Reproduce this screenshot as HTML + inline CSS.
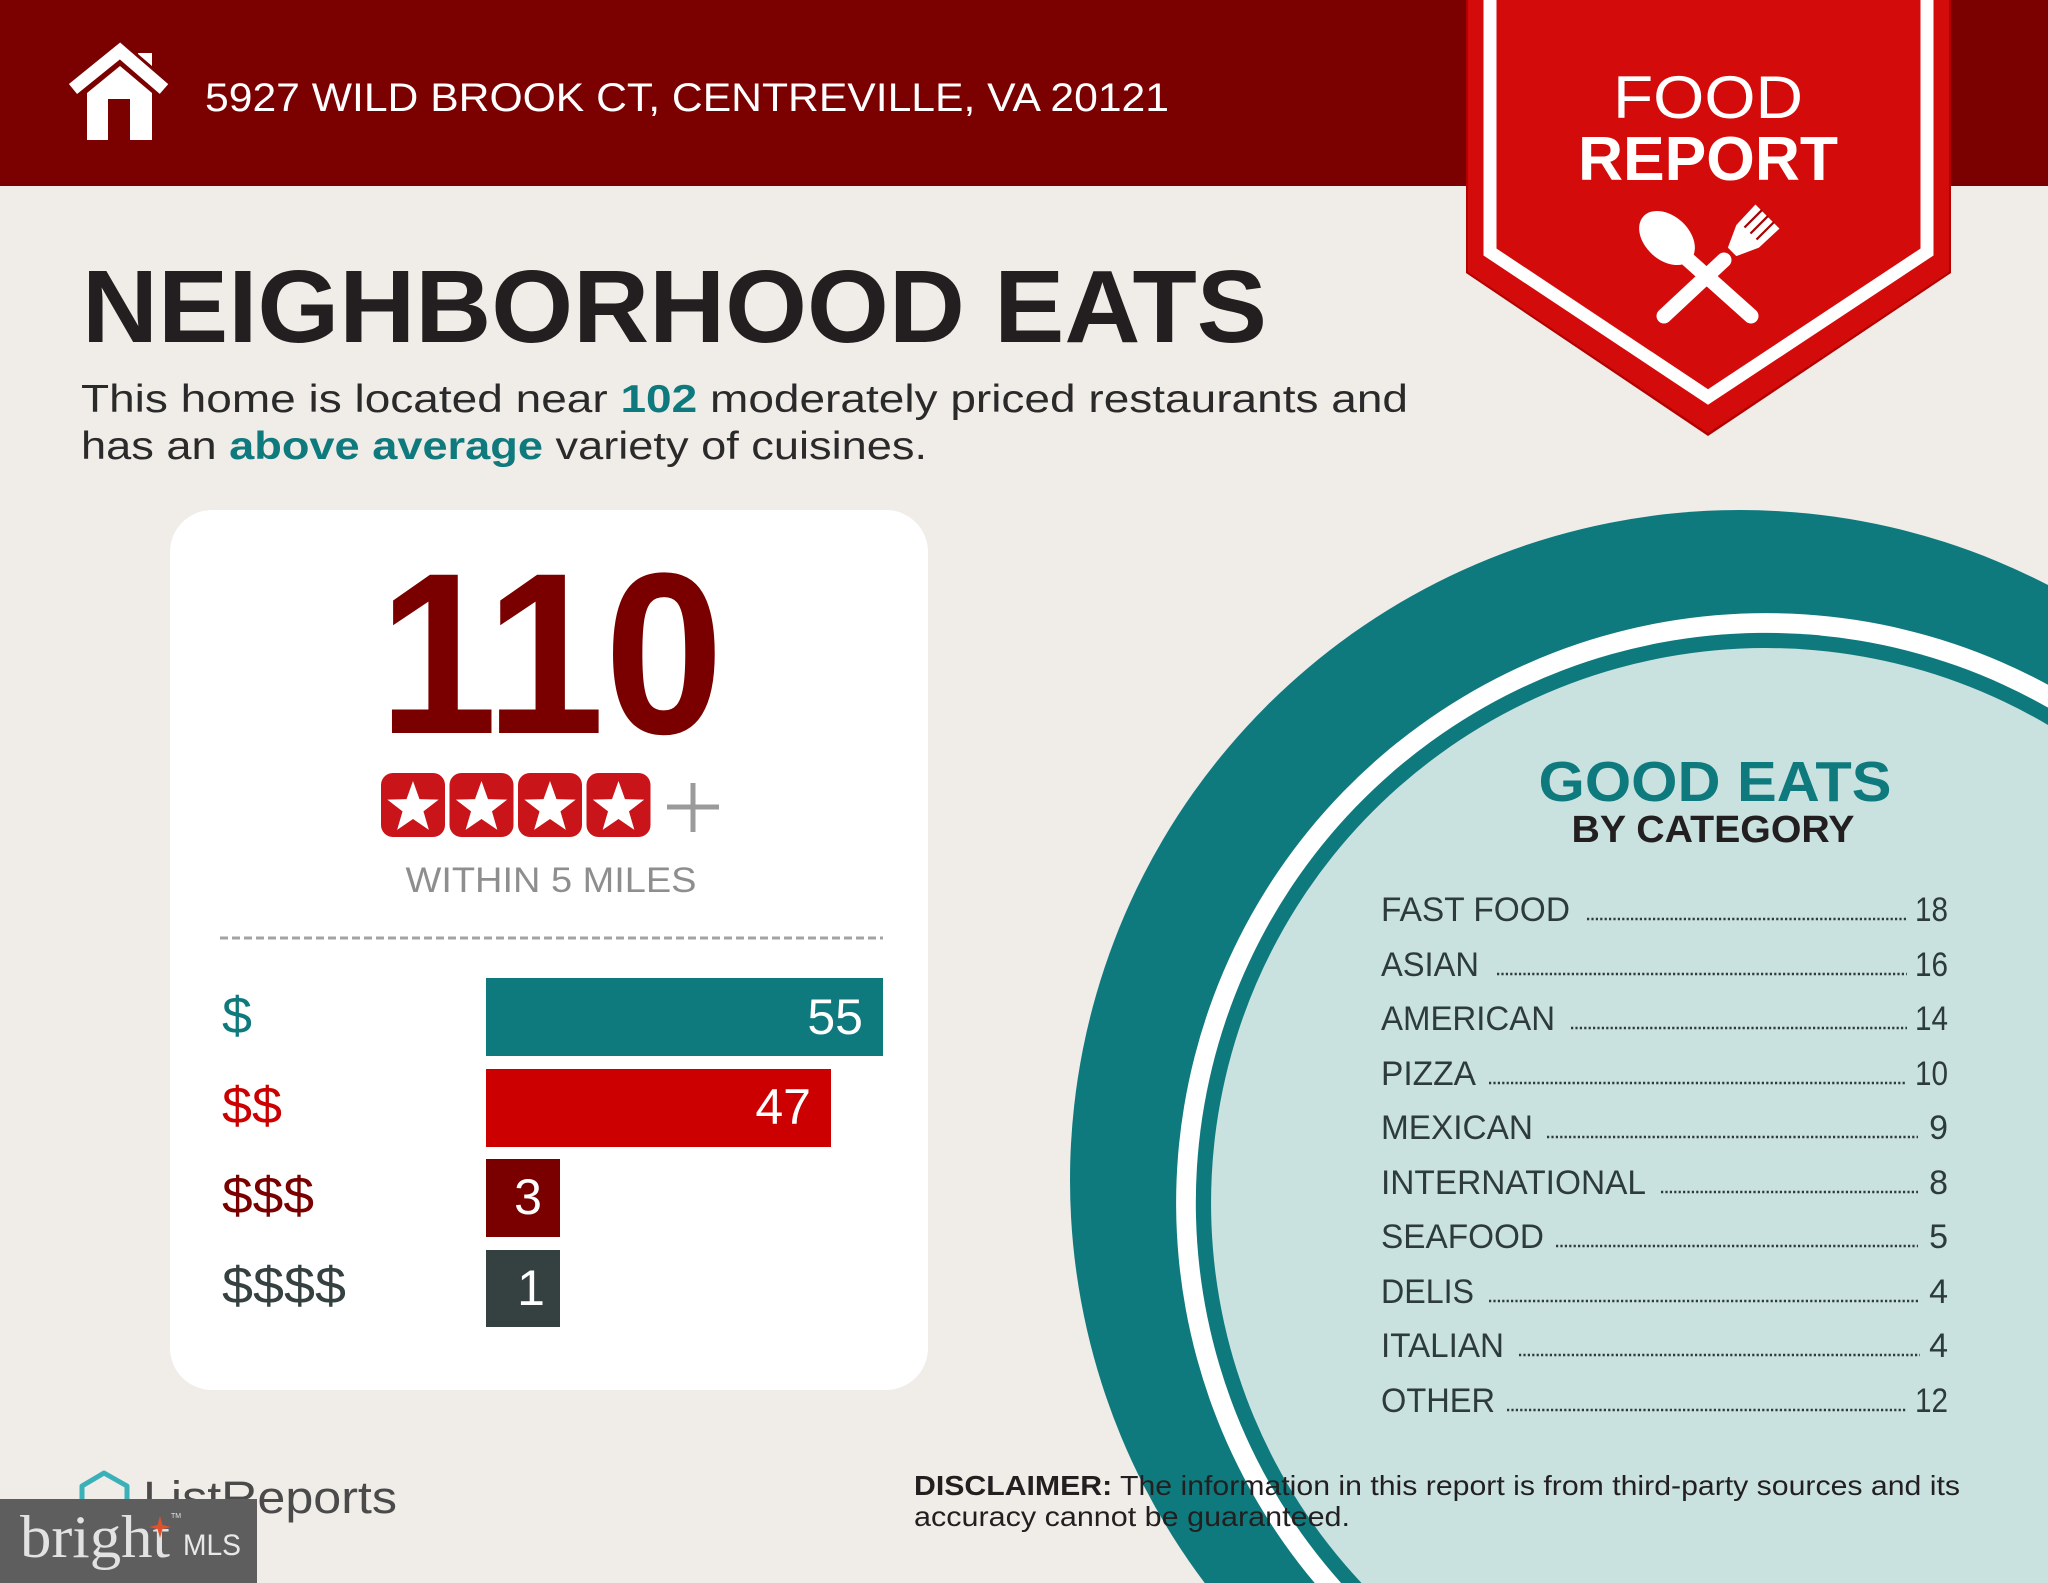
<!DOCTYPE html>
<html>
<head>
<meta charset="utf-8">
<style>
  html,body{margin:0;padding:0;background:#f0ece8;width:2048px;height:1583px;overflow:hidden;}
  svg{display:block;position:absolute;left:0;top:0;}
  text{font-family:"Liberation Sans",sans-serif;}
</style>
</head>
<body>
<svg width="2048" height="1583" viewBox="0 0 2048 1583" xmlns="http://www.w3.org/2000/svg">
  <!-- background -->
  <rect x="0" y="0" width="2048" height="1583" fill="#f0ece8"/>

  <!-- header bar -->
  <rect x="0" y="0" width="2048" height="186" fill="#7b0000"/>

  <!-- house icon -->
  <polygon points="87,140 87,93 120,66 152,93 152,140" fill="#ffffff"/>
  <rect x="108" y="99" width="22" height="41" fill="#7b0000"/>
  <rect x="138" y="53" width="14" height="24" fill="#ffffff"/>
  <polyline points="73,89 120,51 164,89" fill="none" stroke="#7b0000" stroke-width="19" stroke-linejoin="miter"/>
  <polyline points="73,89 120,51 164,89" fill="none" stroke="#ffffff" stroke-width="13" stroke-linejoin="miter"/>

  <!-- address -->
  <text x="205" y="111" font-size="40" fill="#ffffff" textLength="964" lengthAdjust="spacingAndGlyphs">5927 WILD BROOK CT, CENTREVILLE, VA 20121</text>

  <!-- food report badge -->
  <polygon points="1466,0 1951,0 1951,273 1708,436 1466,273" fill="#b30000"/>
  <polygon points="1468,0 1949,0 1949,272 1708,433 1468,272" fill="#d40b0b"/>
  <polyline points="1490,0 1490,252 1708,397 1927,252 1927,0" fill="none" stroke="#ffffff" stroke-width="13" stroke-linejoin="miter"/>
  <text x="1708" y="118" font-size="60" fill="#ffffff" text-anchor="middle" textLength="190" lengthAdjust="spacingAndGlyphs">FOOD</text>
  <text x="1708" y="180" font-size="62" font-weight="bold" fill="#ffffff" text-anchor="middle" textLength="260" lengthAdjust="spacingAndGlyphs">REPORT</text>

  <!-- fork -->
  <line x1="1664" y1="316" x2="1724" y2="260" stroke="#ffffff" stroke-width="15" stroke-linecap="round"/>
  <g transform="translate(1742,242) rotate(-45)">
    <polygon points="-14,-6 8,-16 36,-17 36,17 8,16 -14,6" fill="#ffffff"/>
    <line x1="12" y1="-8.5" x2="37" y2="-8.5" stroke="#a80000" stroke-width="2.2"/>
    <line x1="12" y1="0" x2="37" y2="0" stroke="#a80000" stroke-width="2.2"/>
    <line x1="12" y1="8.5" x2="37" y2="8.5" stroke="#a80000" stroke-width="2.2"/>
  </g>
  <!-- spoon -->
  <line x1="1684" y1="256" x2="1751" y2="316" stroke="#ffffff" stroke-width="15" stroke-linecap="round"/>
  <ellipse cx="1667" cy="238" rx="32" ry="22" transform="rotate(42.6 1667 238)" fill="#ffffff"/>

  <!-- title -->
  <text x="82" y="342" font-size="103" font-weight="bold" fill="#231f20" textLength="1185" lengthAdjust="spacingAndGlyphs">NEIGHBORHOOD EATS</text>

  <!-- paragraph -->
  <text x="81" y="412" font-size="39" fill="#2a2a2a" textLength="1327" lengthAdjust="spacingAndGlyphs">This home is located near <tspan font-weight="bold" fill="#0f7a7e">102</tspan> moderately priced restaurants and</text>
  <text x="81" y="459" font-size="39" fill="#2a2a2a" textLength="846" lengthAdjust="spacingAndGlyphs">has an <tspan font-weight="bold" fill="#0f7a7e">above average</tspan> variety of cuisines.</text>

  <!-- teal circle (clipped to frame) -->
  <path d="M1204.75,1583 A670,670 0 0 1 2048,585 L2048,1583 Z" fill="#0f7a7e"/>
  <path d="M1314.7,1583 A590,590 0 0 1 2048,684.8 L2048,1583 Z" fill="#ffffff"/>
  <path d="M1341.1,1583 A570,570 0 0 1 2048,707.6 L2048,1583 Z" fill="#0f7a7e"/>
  <path d="M1361.5,1583 A555,555 0 0 1 2048,725 L2048,1583 Z" fill="#c9e2e0"/>

  <!-- good eats -->
  <text x="1715" y="801" font-size="57" font-weight="bold" fill="#0f7a7e" text-anchor="middle" textLength="353" lengthAdjust="spacingAndGlyphs">GOOD EATS</text>
  <text x="1713" y="842" font-size="38" font-weight="bold" fill="#231f20" text-anchor="middle" textLength="283" lengthAdjust="spacingAndGlyphs">BY CATEGORY</text>

  <g font-size="34" fill="#2d3b3b">
    <text x="1381" y="921" textLength="189" lengthAdjust="spacingAndGlyphs">FAST FOOD</text>
    <text x="1915" y="921" textLength="33" lengthAdjust="spacingAndGlyphs">18</text>
    <text x="1381" y="976" textLength="98" lengthAdjust="spacingAndGlyphs">ASIAN</text>
    <text x="1915" y="976" textLength="33" lengthAdjust="spacingAndGlyphs">16</text>
    <text x="1381" y="1030" textLength="174" lengthAdjust="spacingAndGlyphs">AMERICAN</text>
    <text x="1915" y="1030" textLength="33" lengthAdjust="spacingAndGlyphs">14</text>
    <text x="1381" y="1085" textLength="95" lengthAdjust="spacingAndGlyphs">PIZZA</text>
    <text x="1915" y="1085" textLength="33" lengthAdjust="spacingAndGlyphs">10</text>
    <text x="1381" y="1139" textLength="152" lengthAdjust="spacingAndGlyphs">MEXICAN</text>
    <text x="1948" y="1139" text-anchor="end">9</text>
    <text x="1381" y="1194" textLength="265" lengthAdjust="spacingAndGlyphs">INTERNATIONAL</text>
    <text x="1948" y="1194" text-anchor="end">8</text>
    <text x="1381" y="1248" textLength="163" lengthAdjust="spacingAndGlyphs">SEAFOOD</text>
    <text x="1948" y="1248" text-anchor="end">5</text>
    <text x="1381" y="1303" textLength="93" lengthAdjust="spacingAndGlyphs">DELIS</text>
    <text x="1948" y="1303" text-anchor="end">4</text>
    <text x="1381" y="1357" textLength="123" lengthAdjust="spacingAndGlyphs">ITALIAN</text>
    <text x="1948" y="1357" text-anchor="end">4</text>
    <text x="1381" y="1412" textLength="114" lengthAdjust="spacingAndGlyphs">OTHER</text>
    <text x="1915" y="1412" textLength="33" lengthAdjust="spacingAndGlyphs">12</text>
  </g>
  <g stroke="#2d3b3b" stroke-width="2.5" stroke-dasharray="2.2 2.2">
    <line x1="1587" y1="919" x2="1907" y2="919"/>
    <line x1="1497" y1="974" x2="1907" y2="974"/>
    <line x1="1571" y1="1028" x2="1907" y2="1028"/>
    <line x1="1489" y1="1083" x2="1906" y2="1083"/>
    <line x1="1547" y1="1137" x2="1918" y2="1137"/>
    <line x1="1661" y1="1192" x2="1918" y2="1192"/>
    <line x1="1556" y1="1246" x2="1918" y2="1246"/>
    <line x1="1489" y1="1301" x2="1920" y2="1301"/>
    <line x1="1519" y1="1355" x2="1920" y2="1355"/>
    <line x1="1507" y1="1410" x2="1907" y2="1410"/>
  </g>

  <!-- disclaimer -->
  <text x="914" y="1495" font-size="28" fill="#231f20" textLength="1046" lengthAdjust="spacingAndGlyphs"><tspan font-weight="bold">DISCLAIMER:</tspan> The information in this report is from third-party sources and its</text>
  <text x="914" y="1526" font-size="28" fill="#231f20" textLength="436" lengthAdjust="spacingAndGlyphs">accuracy cannot be guaranteed.</text>

  <!-- white card -->
  <rect x="170" y="510" width="758" height="880" rx="42" ry="42" fill="#ffffff"/>

  <text x="551" y="733" font-size="230" font-weight="bold" fill="#7a0000" text-anchor="middle" textLength="345" lengthAdjust="spacingAndGlyphs">110</text>

  <!-- stars -->
  <g>
    <rect x="381" y="773" width="64" height="64" rx="12" fill="#c9141a"/>
    <rect x="449.5" y="773" width="64" height="64" rx="12" fill="#c9141a"/>
    <rect x="518" y="773" width="64" height="64" rx="12" fill="#c9141a"/>
    <rect x="586.5" y="773" width="64" height="64" rx="12" fill="#c9141a"/>
    <g fill="#ffffff">
      <path transform="translate(413,808)" d="M0,-27 L6.47,-8.9 L25.68,-8.34 L10.46,3.4 L15.87,21.84 L0,11 L-15.87,21.84 L-10.46,3.4 L-25.68,-8.34 L-6.47,-8.9 Z"/>
      <path transform="translate(481.5,808)" d="M0,-27 L6.47,-8.9 L25.68,-8.34 L10.46,3.4 L15.87,21.84 L0,11 L-15.87,21.84 L-10.46,3.4 L-25.68,-8.34 L-6.47,-8.9 Z"/>
      <path transform="translate(550,808)" d="M0,-27 L6.47,-8.9 L25.68,-8.34 L10.46,3.4 L15.87,21.84 L0,11 L-15.87,21.84 L-10.46,3.4 L-25.68,-8.34 L-6.47,-8.9 Z"/>
      <path transform="translate(618.5,808)" d="M0,-27 L6.47,-8.9 L25.68,-8.34 L10.46,3.4 L15.87,21.84 L0,11 L-15.87,21.84 L-10.46,3.4 L-25.68,-8.34 L-6.47,-8.9 Z"/>
    </g>
    <line x1="693" y1="783" x2="693" y2="832" stroke="#9b9b9b" stroke-width="5"/>
    <line x1="667" y1="807" x2="719" y2="807" stroke="#9b9b9b" stroke-width="5"/>
  </g>

  <text x="551" y="892" font-size="35" fill="#8e8e8e" text-anchor="middle" textLength="291" lengthAdjust="spacingAndGlyphs">WITHIN 5 MILES</text>

  <line x1="220" y1="938" x2="883" y2="938" stroke="#a3a3a3" stroke-width="3" stroke-dasharray="8 4"/>

  <!-- price bars -->
  <rect x="486" y="978" width="397" height="78" fill="#0e7a7e"/>
  <rect x="486" y="1069" width="345" height="78" fill="#cc0000"/>
  <rect x="486" y="1159" width="74" height="78" fill="#7a0000"/>
  <rect x="486" y="1250" width="74" height="77" fill="#354040"/>
  <g font-size="50" fill="#ffffff">
    <text x="863" y="1034" text-anchor="end">55</text>
    <text x="811" y="1124" text-anchor="end">47</text>
    <text x="528" y="1214" text-anchor="middle">3</text>
    <text x="531" y="1305" text-anchor="middle">1</text>
  </g>
  <g font-size="52">
    <text x="222" y="1033" fill="#0e7a7e" textLength="30" lengthAdjust="spacingAndGlyphs">$</text>
    <text x="222" y="1123" fill="#cc0000" textLength="60" lengthAdjust="spacingAndGlyphs">$$</text>
    <text x="222" y="1213" fill="#7a0000" textLength="92" lengthAdjust="spacingAndGlyphs">$$$</text>
    <text x="222" y="1303" fill="#354040" textLength="124" lengthAdjust="spacingAndGlyphs">$$$$</text>
  </g>

  <!-- ListReports logo -->
  <path d="M82,1508 L82,1486 L104,1473 L127,1486 L127,1508" fill="none" stroke="#3ab0b8" stroke-width="5" stroke-linejoin="round"/>
  <text x="143" y="1513" font-size="45" fill="#4a4a4a" textLength="254" lengthAdjust="spacingAndGlyphs">ListReports</text>

  <!-- bright MLS -->
  <rect x="0" y="1499" width="257" height="84" fill="#5e5e5e"/>
  <text x="20" y="1557" font-size="60" fill="#e2e2e2" textLength="150" lengthAdjust="spacingAndGlyphs" style="font-family:'Liberation Serif',serif">bright</text>
  <path d="M160,1516 L162.5,1525 L171,1527 L162.5,1529 L160,1538 L157.5,1529 L149,1527 L157.5,1525 Z" fill="#e0502a"/>
  <text x="171" y="1518" font-size="7" fill="#e2e2e2">TM</text>
  <text x="183" y="1555" font-size="30" fill="#e8e8e8" textLength="58" lengthAdjust="spacingAndGlyphs">MLS</text>
</svg>
</body>
</html>
